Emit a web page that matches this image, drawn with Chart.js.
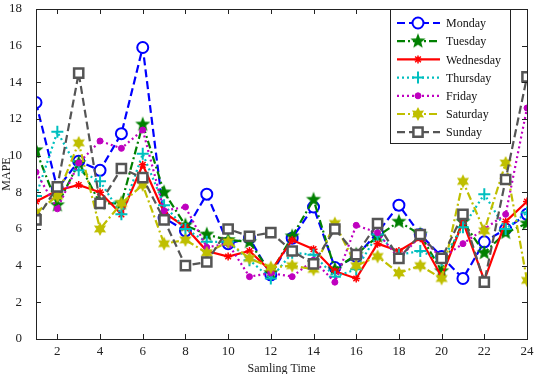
<!DOCTYPE html>
<html>
<head>
<meta charset="utf-8">
<script src="https://cdn.jsdelivr.net/npm/chart.js@4.4.1/dist/chart.umd.min.js"></script>
<style>
  html, body { margin: 0; padding: 0; background: #fff; }
  #wrap { width: 536px; height: 374px; }
</style>
</head>
<body>
<div id="wrap"><canvas id="chart" width="536" height="374"></canvas></div>
<script>
// sampling times (x) and tick labels
const samplingTimes = [1,2,3,4,5,6,7,8,9,10,11,12,13,14,15,16,17,18,19,20,21,22,23,24];
const xTicks = [2,4,6,8,10,12,14,16,18,20,22,24];
const yTicks = [0,2,4,6,8,10,12,14,16,18];

// MAPE per day
const monday    = [12.9, 8.2, 9.7, 9.2, 11.2, 15.9, 6.6, 5.9, 7.9, 5.2, 5.5, 3.5, 5.5, 7.2, 3.9, 4.5, 5.8, 7.3, 5.7, 4.5, 3.3, 5.3, 6.0, 6.8];
const tuesday   = [10.3, 7.3, 9.6, 7.4, 7.4, 11.7, 8.0, 6.2, 5.7, 5.4, 5.3, 3.6, 5.6, 7.6, 3.8, 4.6, 5.6, 6.4, 5.7, 3.7, 6.4, 4.7, 5.8, 6.3];
const wednesday = [7.5, 8.1, 8.4, 8.0, 6.8, 9.5, 6.9, 6.1, 4.8, 4.5, 4.8, 3.7, 5.4, 4.9, 3.7, 3.3, 5.2, 4.8, 5.5, 3.4, 6.4, 3.2, 6.4, 7.5];
const thursday  = [7.8, 11.3, 9.2, 8.6, 6.8, 10.1, 7.3, 6.0, 5.3, 5.3, 4.3, 3.3, 4.7, 4.6, 3.4, 3.8, 5.7, 4.6, 4.8, 4.3, 6.1, 7.9, 6.0, 6.9];
const friday    = [9.1, 7.1, 9.6, 10.8, 10.4, 11.4, 7.0, 7.2, 5.0, 5.2, 3.4, 3.6, 3.4, 4.3, 3.1, 6.2, 5.8, 4.4, 5.6, 4.4, 5.2, 6.0, 6.8, 12.6];
const saturday  = [6.9, 7.8, 10.7, 6.0, 7.4, 8.4, 5.2, 5.4, 4.7, 5.3, 4.4, 3.9, 4.0, 3.8, 6.3, 4.0, 4.5, 3.6, 4.0, 3.3, 8.6, 5.9, 9.6, 3.2];
const sunday    = [6.5, 8.3, 14.5, 7.4, 9.3, 8.8, 6.5, 4.0, 4.2, 6.0, 5.6, 5.8, 4.8, 4.1, 6.0, 4.6, 6.3, 4.4, 5.7, 4.4, 6.8, 3.1, 8.7, 14.3];

const dayNames = ['Monday', 'Tuesday', 'Wednesday', 'Thursday', 'Friday', 'Saturday', 'Sunday'];
const dayValues = [monday, tuesday, wednesday, thursday, friday, saturday, sunday];

const FONT = '"Liberation Serif", "Times New Roman", serif';

// filled star marker drawn on a small canvas
function starMarker(color, points, outer, inner) {
  const size = Math.ceil(outer * 2 + 2);
  const c = document.createElement('canvas');
  c.width = size; c.height = size;
  const g = c.getContext('2d');
  g.fillStyle = color;
  g.beginPath();
  for (let i = 0; i < points * 2; i++) {
    const r = i % 2 === 0 ? outer : inner;
    const a = -Math.PI / 2 + i * Math.PI / points;
    const px = size / 2 + r * Math.cos(a), py = size / 2 + r * Math.sin(a);
    if (i === 0) g.moveTo(px, py); else g.lineTo(px, py);
  }
  g.closePath();
  g.fill();
  return c;
}

const styles = [
  { color: '#0000ff', dash: [8, 4], width: 2.2, point: 'circle', radius: 5.5, pbw: 2, fill: '#ffffff' },
  { color: '#008000', dash: [8, 3, 2, 3], width: 2.2, point: starMarker('#008000', 5, 8, 3.4), radius: 8, pbw: 1, fill: '#008000' },
  { color: '#ff0000', dash: [], width: 2.2, point: 'star', radius: 4, pbw: 1.5, fill: '#ff0000' },
  { color: '#00bfbf', dash: [2, 3], width: 2.2, point: 'cross', radius: 6, pbw: 2, fill: '#00bfbf' },
  { color: '#bf00bf', dash: [2, 3], width: 2.2, point: 'circle', radius: 3, pbw: 1, fill: '#bf00bf' },
  { color: '#bfbf00', dash: [8, 3, 2, 3], width: 2.2, point: starMarker('#bfbf00', 6, 7, 3.8), radius: 7, pbw: 1, fill: '#bfbf00' },
  { color: '#555555', dash: [8, 4], width: 2.2, point: 'rect', radius: 6.5, pbw: 2.5, fill: '#ffffff' }
];

const datasets = dayNames.map((name, i) => ({
  label: name,
  data: samplingTimes.map((t, k) => ({ x: t, y: dayValues[i][k] })),
  borderColor: styles[i].color,
  borderWidth: styles[i].width,
  borderDash: styles[i].dash,
  backgroundColor: styles[i].fill,
  pointStyle: styles[i].point,
  pointRadius: styles[i].radius,
  pointBorderWidth: styles[i].pbw,
  pointBorderColor: styles[i].color,
  pointBackgroundColor: styles[i].fill,
  tension: 0,
  order: 7 - i
}));

/** ---------------- frame, inward ticks and legend ---------------- **/
const framePlugin = {
  id: 'frame',
  afterDatasetsDraw(chart) {
    const { ctx, chartArea: a, scales } = chart;
    ctx.save();
    ctx.strokeStyle = '#222';
    ctx.lineWidth = 1;
    ctx.setLineDash([]);
    ctx.strokeRect(a.left + 0.5, a.top + 0.5, a.right - a.left, a.bottom - a.top);
    ctx.beginPath();
    xTicks.forEach(v => {
      const px = Math.round(scales.x.getPixelForValue(v)) + 0.5;
      ctx.moveTo(px, a.bottom); ctx.lineTo(px, a.bottom - 5);
      ctx.moveTo(px, a.top); ctx.lineTo(px, a.top + 5);
    });
    yTicks.forEach(v => {
      const py = Math.round(scales.y.getPixelForValue(v)) + 0.5;
      ctx.moveTo(a.left, py); ctx.lineTo(a.left + 5, py);
      ctx.moveTo(a.right, py); ctx.lineTo(a.right - 5, py);
    });
    ctx.stroke();
    ctx.restore();
  },
  afterDraw(chart) {
    const ctx = chart.ctx;
    const box = { left: 390.5, top: 9.5, width: 120, height: 134 };
    ctx.save();
    ctx.fillStyle = '#fff';
    ctx.fillRect(box.left, box.top, box.width, box.height);
    ctx.strokeStyle = '#222';
    ctx.lineWidth = 1;
    ctx.strokeRect(box.left, box.top, box.width, box.height);
    ctx.font = '12px ' + FONT;
    ctx.textBaseline = 'middle';
    chart.data.datasets.forEach((ds, i) => {
      const y = 23 + i * 18.2;
      ctx.strokeStyle = ds.borderColor;
      ctx.lineWidth = ds.borderWidth;
      ctx.setLineDash(ds.borderDash);
      ctx.beginPath();
      ctx.moveTo(397, y); ctx.lineTo(440, y);
      ctx.stroke();
      ctx.setLineDash([]);
      ctx.fillStyle = ds.pointBackgroundColor;
      ctx.lineWidth = ds.pointBorderWidth;
      Chart.helpers.drawPoint(ctx, {
        pointStyle: ds.pointStyle, radius: ds.pointRadius,
        borderWidth: ds.pointBorderWidth, rotation: 0
      }, 418, y);
      ctx.fillStyle = '#111';
      ctx.fillText(ds.label, 446, y + 1);
    });
    ctx.restore();
  }
};

new Chart(document.getElementById('chart'), {
  type: 'line',
  data: { datasets },
  options: {
    responsive: false,
    animation: false,
    layout: { padding: { top: 1, right: 6, left: 0, bottom: 0 } },
    plugins: { legend: { display: false }, tooltip: { enabled: false } },
    scales: {
      x: {
        type: 'linear', min: 1, max: 24,
        afterBuildTicks: s => { s.ticks = xTicks.map(v => ({ value: v })); },
        afterFit: s => { s.height = 35; s.paddingLeft = 0; s.paddingRight = 0; },
        grid: { display: false },
        border: { display: false },
        ticks: { color: '#222', font: { family: FONT, size: 13 }, padding: -3, maxRotation: 0 },
        title: { display: true, text: 'Samling Time', color: '#222', font: { family: FONT, size: 12 }, padding: { top: 0, bottom: -2 } }
      },
      y: {
        min: 0, max: 18,
        afterBuildTicks: s => { s.ticks = yTicks.map(v => ({ value: v })); },
        afterFit: s => { s.width = 36; s.paddingTop = 0; s.paddingBottom = 0; },
        grid: { display: false },
        border: { display: false },
        ticks: { color: '#222', font: { family: FONT, size: 13 }, padding: 6 },
        title: { display: true, text: 'MAPE', color: '#222', font: { family: FONT, size: 12 }, padding: { top: 0, bottom: 0 } }
      }
    }
  },
  plugins: [framePlugin]
});
</script>
</body>
</html>
